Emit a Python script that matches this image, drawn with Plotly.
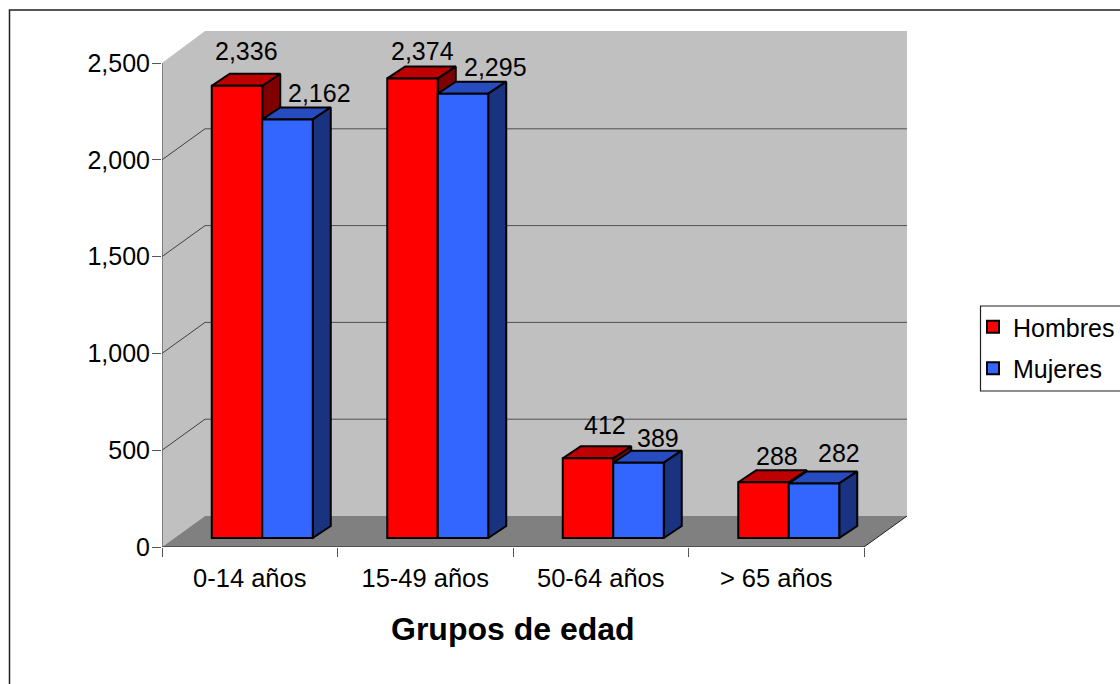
import plotly.graph_objects as go

categories = ["0-14 años", "15-49 años", "50-64 años", "> 65 años"]
hombres = [2336, 2374, 412, 288]
mujeres = [2162, 2295, 389, 282]
y_ticks = [0, 500, 1000, 1500, 2000, 2500]
grid_vals = [500, 1000, 1500, 2000]

# manual data-label nudges (pixels, relative to each bar's top centre)
label_dx_h = [9, 10, 17, 13]
label_dy_h = [35, 27, 33, 26]
label_dx_m = [32, 32, 19, 25]
label_dy_m = [26, 27, 25, 30]

FONT = "Liberation Sans"
W, H = 1120, 684
LEFT, RIGHT_FRONT, RIGHT_BACK = 162, 864, 907
BOTTOM, TOP_BACK = 547, 31
PX_PER_CAT = (RIGHT_FRONT - LEFT) / 4
PX_PER_VAL = (547 - 63) / 2500

XMAX = (RIGHT_BACK - LEFT) / PX_PER_CAT
YMAX = (BOTTOM - TOP_BACK) / PX_PER_VAL
DEPTH_X = 43 / PX_PER_CAT
DEPTH_Y = 31 / PX_PER_VAL
BAR_DX = 12.5 / PX_PER_CAT      # bars stand slightly inside the floor
BAR_DY = 9 / PX_PER_VAL
FACE_X = 18 / PX_PER_CAT        # visible bar depth
FACE_Y = 12 / PX_PER_VAL
BAR_W = 50.5 / PX_PER_CAT

RED, RED_TOP, RED_SIDE = "#FF0000", "#BF0000", "#7F0000"
BLUE, BLUE_TOP, BLUE_SIDE = "#3366FF", "#264CBF", "#193380"
WALL, FLOOR = "#C0C0C0", "#808080"

fig = go.Figure()


def poly(xs, ys, fill, width=2.0, color="black"):
    fig.add_trace(go.Scatter(
        x=xs + xs[:1], y=ys + ys[:1], mode="lines", fill="toself", fillcolor=fill,
        line=dict(color=color, width=width), showlegend=False, hoverinfo="skip",
        xaxis="x", yaxis="y"))


def poly_shape(xs, ys, fill):
    path = "M " + " L ".join(f"{a},{b}" for a, b in zip(xs, ys)) + " Z"
    return dict(type="path", path=path, xref="x", yref="y", fillcolor=fill,
                line=dict(width=0), layer="below")


def line_shape(x0, y0, x1, y1, color, width=1):
    return dict(type="line", xref="x", yref="y", x0=x0, y0=y0, x1=x1, y1=y1,
                line=dict(color=color, width=width), layer="below")


shapes = [
    poly_shape([0, 0, DEPTH_X, DEPTH_X], [0, 2500, YMAX, DEPTH_Y], WALL),
    poly_shape([DEPTH_X, DEPTH_X, XMAX, XMAX], [DEPTH_Y, YMAX, YMAX, DEPTH_Y], WALL),
    poly_shape([0, DEPTH_X, XMAX, 4], [0, DEPTH_Y, DEPTH_Y, 0], FLOOR),
]
for v in grid_vals:
    shapes.append(line_shape(0, v, DEPTH_X, v + DEPTH_Y, "#202020", 0.8))
    shapes.append(line_shape(DEPTH_X, v + DEPTH_Y, XMAX, v + DEPTH_Y, "#505050", 1))
shapes.append(line_shape(0, 0, 0, 2500, "#555555", 1.2))
shapes.append(line_shape(0, 0, 4, 0, "#202020", 1.2))
shapes.append(line_shape(4, 0, XMAX, DEPTH_Y, "#202020", 1))
# outer chart frame, running off the page to the right and below
shapes.append(dict(type="path", xref="paper", yref="paper", layer="below",
                   path=f"M {9.5/W},0 L {9.5/W},{(H-10)/H} L 1,{(H-10)/H}",
                   line=dict(color="#202020", width=1.5)))
# legend frame
shapes.append(dict(type="path", xref="paper", yref="paper", layer="below",
                   path=f"M 1,{(H-306)/H} L {980.5/W},{(H-306)/H} L {980.5/W},{(H-391)/H} L 1,{(H-391)/H}",
                   line=dict(color="#202020", width=1.2)))

centers_h = [i + 0.5 + BAR_DX - BAR_W / 2 for i in range(4)]
centers_m = [i + 0.5 + BAR_DX + BAR_W / 2 for i in range(4)]

# side and top faces: computed from the values, drawn under the front faces
for c, v in zip(centers_h, hombres):
    r, t = c + BAR_W / 2, v + BAR_DY
    poly([r, r + FACE_X, r + FACE_X, r], [BAR_DY, BAR_DY + FACE_Y, t + FACE_Y, t], RED_SIDE)
    poly([c - BAR_W / 2, c - BAR_W / 2 + FACE_X, r + FACE_X, r], [t, t + FACE_Y, t + FACE_Y, t], RED_TOP)
for c, v in zip(centers_m, mujeres):
    r, t = c + BAR_W / 2, v + BAR_DY
    poly([c - BAR_W / 2, c - BAR_W / 2 + FACE_X, r + FACE_X, r], [t, t + FACE_Y, t + FACE_Y, t], BLUE_TOP)
    poly([r, r + FACE_X, r + FACE_X, r], [BAR_DY, BAR_DY + FACE_Y, t + FACE_Y, t], BLUE_SIDE)

# front faces: real bars on an overlaying axis pair
for name, cs, vals, col in (("Hombres", centers_h, hombres, RED), ("Mujeres", centers_m, mujeres, BLUE)):
    fig.add_trace(go.Bar(name=name, legendgroup=name, x=cs, y=vals, base=BAR_DY, width=BAR_W,
                         marker=dict(color=col, line=dict(color="black", width=2)),
                         xaxis="x2", yaxis="y2", hoverinfo="skip"))

annotations = []
for cs, vals, dxs, dys in ((centers_h, hombres, label_dx_h, label_dy_h),
                           (centers_m, mujeres, label_dx_m, label_dy_m)):
    for c, v, dx, dy in zip(cs, vals, dxs, dys):
        annotations.append(dict(x=c, y=v + BAR_DY, xref="x", yref="y", text=f"{v:,}", showarrow=False,
                                xshift=dx, yshift=dy, xanchor="center", yanchor="middle",
                                font=dict(size=25, color="black", family=FONT)))
annotations.append(dict(x=2, xref="x", y=(H - 629) / H, yref="paper", text="<b>Grupos de edad</b>",
                        xanchor="center", yanchor="middle",
                        showarrow=False, font=dict(size=32, color="black", family=FONT)))

dom_x = [LEFT / W, RIGHT_BACK / W]
dom_y = [(H - BOTTOM) / H, (H - TOP_BACK) / H]
fig.update_layout(
    width=W, height=H, margin=dict(l=0, r=0, t=0, b=0, autoexpand=False),
    paper_bgcolor="white", plot_bgcolor="rgba(0,0,0,0)",
    font=dict(family=FONT, size=25, color="black"),
    barmode="overlay", shapes=shapes, annotations=annotations,
    xaxis=dict(domain=dom_x, range=[0, XMAX], showgrid=False, zeroline=False, showline=False,
               tickmode="array", tickvals=[i + 0.5 for i in range(4)], ticktext=categories,
               ticks="", tickfont=dict(size=25.5), ticklabelstandoff=13,
               minor=dict(tickmode="array", tickvals=list(range(5)), ticks="outside", ticklen=9,
                          tickcolor="#555555", tickwidth=1, showgrid=False)),
    yaxis=dict(domain=dom_y, range=[0, YMAX], showgrid=False, zeroline=False, showline=False,
               tickmode="array", tickvals=y_ticks, ticktext=[f"{t:,}" for t in y_ticks],
               ticks="outside", ticklen=9, tickcolor="#555555", tickwidth=1, ticklabelstandoff=-3),
    xaxis2=dict(domain=dom_x, range=[0, XMAX], overlaying="x", visible=False),
    yaxis2=dict(domain=dom_y, range=[0, YMAX], overlaying="y", visible=False),
    legend=dict(x=973 / W, xanchor="left", y=(H - 304) / H, yanchor="top", bgcolor="rgba(0,0,0,0)",
                tracegroupgap=6, font=dict(size=25, family=FONT, color="black"),
                itemclick=False, itemdoubleclick=False),
    showlegend=True,
)
fig.write_html("out.html", config=dict(displayModeBar=False),
               post_script="document.body.style.margin='0';document.documentElement.style.overflow='hidden';")
